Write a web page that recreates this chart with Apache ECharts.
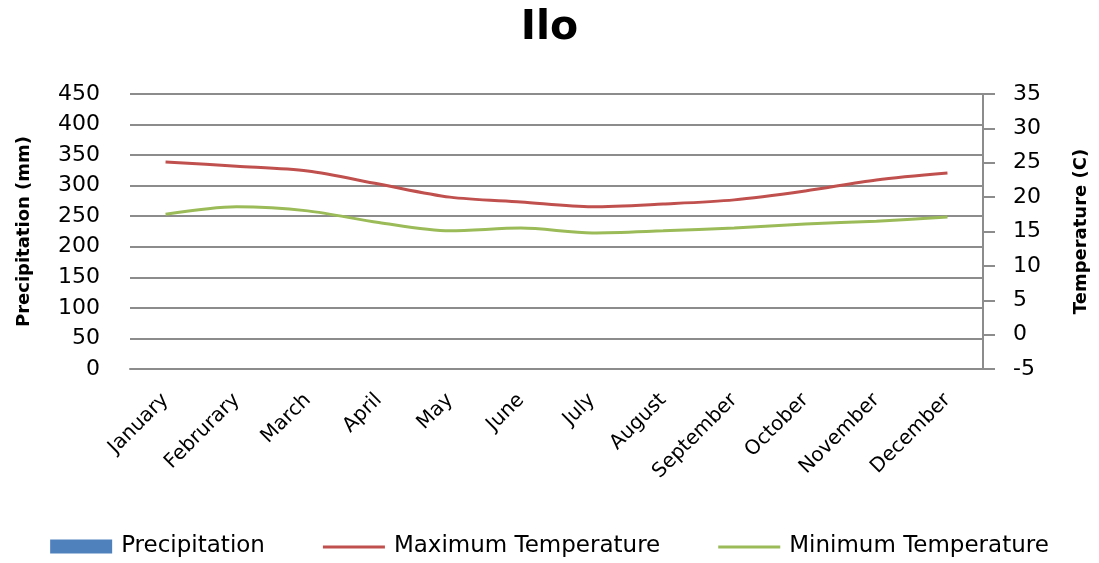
<!DOCTYPE html>
<html><head><meta charset="utf-8">
<script src="https://cdn.jsdelivr.net/npm/echarts@6/dist/echarts.min.js"></script>
<style>html,body{margin:0;padding:0;background:#fff}#c{width:1099px;height:563px}</style>
</head><body><div id="c"></div>
<script>
const months = ["January","Februrary","March","April","May","June","July","August","September","October","November","December"];
const precipitation = [0,0,0,0,0,0,0,0,0,0,0,0];
const maxTemp = [25.1,24.5,23.8,21.9,20.0,19.3,18.6,19.0,19.6,20.9,22.5,23.5];
const minTemp = [17.5,18.6,18.0,16.3,15.1,15.5,14.8,15.1,15.5,16.1,16.5,17.1];

const chart = echarts.init(document.getElementById('c'));
const font = "DejaVu Sans";
const lineIcon = 'path://M0,0h0.01v0.01h-0.01Z M0,6h62v3h-62Z M61.99,13.99h0.01v0.01h-0.01Z';
chart.setOption({
  animation:false,
  title:{text:"Ilo",left:'center',top:3,textStyle:{fontFamily:font,fontSize:41,fontWeight:'bold',color:'#000'}},
  grid:{left:130,right:116,top:94,bottom:194},
  legend:{bottom:0,left:'center',itemWidth:62,itemHeight:14,itemGap:58,
    textStyle:{fontFamily:font,fontSize:23,color:'#000',padding:[0,0,0,4]},
    data:[{name:'Precipitation',icon:'rect'},{name:'Maximum Temperature',icon:lineIcon},{name:'Minimum Temperature',icon:lineIcon}]},
  xAxis:{type:'category',data:months,boundaryGap:true,
    axisLine:{show:true,lineStyle:{color:'#8c8c8c',width:2}},axisTick:{show:false},
    axisLabel:{rotate:45,fontFamily:font,fontSize:20,color:'#000',margin:28,interval:0}},
  yAxis:[
    {type:'value',min:0,max:450,interval:50,name:'Precipitation (mm)',nameLocation:'middle',nameGap:97,nameRotate:90,
     nameTextStyle:{fontFamily:font,fontSize:18,fontWeight:'bold',color:'#000'},
     axisLine:{show:false},axisTick:{show:false},
     axisLabel:{fontFamily:font,fontSize:22,color:'#000',margin:30},
     splitLine:{lineStyle:{color:'#8c8c8c',width:2}}},
    {type:'value',min:-5,max:35,interval:5,position:'right',name:'Temperature (C)',nameLocation:'middle',nameGap:89,nameRotate:90,
     nameTextStyle:{fontFamily:font,fontSize:18,fontWeight:'bold',color:'#000'},
     axisLine:{show:true,lineStyle:{color:'#8c8c8c',width:2}},axisTick:{show:true,length:12,lineStyle:{color:'#8c8c8c',width:2}},
     axisLabel:{fontFamily:font,fontSize:22,color:'#000',margin:30},
     splitLine:{show:false}}
  ],
  series:[
    {name:'Precipitation',type:'bar',data:precipitation,yAxisIndex:0,itemStyle:{color:'#4f81bd'}},
    {name:'Maximum Temperature',type:'line',data:maxTemp,yAxisIndex:1,smooth:0.3,symbol:'none',lineStyle:{color:'#c0504d',width:3},itemStyle:{color:'#c0504d'}},
    {name:'Minimum Temperature',type:'line',data:minTemp,yAxisIndex:1,smooth:0.3,symbol:'none',lineStyle:{color:'#9bbb59',width:3},itemStyle:{color:'#9bbb59'}}
  ]
});
</script></body></html>
